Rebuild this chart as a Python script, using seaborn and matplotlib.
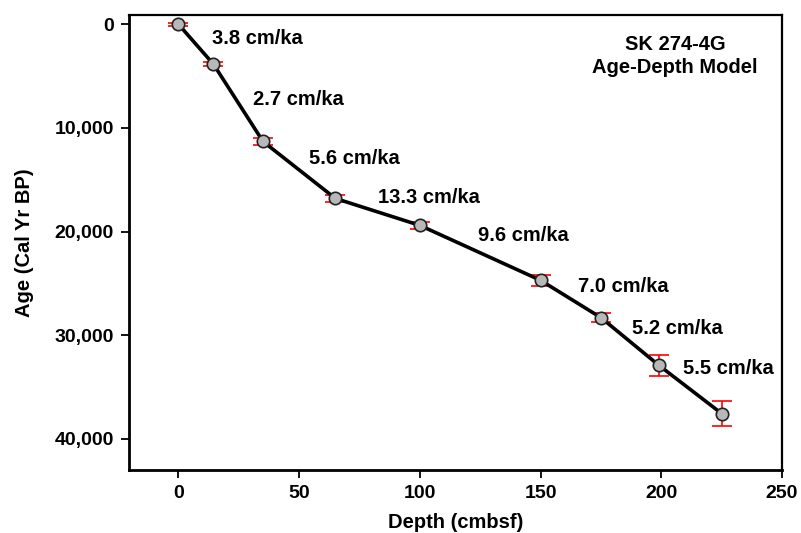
import matplotlib
matplotlib.use("Agg")
import matplotlib.pyplot as plt
import seaborn as sns
import pandas as pd

depth = [0, 14.5, 35, 65, 100, 150, 175, 199, 225]
age = [0, 3850, 11300, 16800, 19400, 24700, 28300, 32900, 37550]
age_err = [150, 200, 300, 300, 300, 500, 450, 1000, 1200]
rate_labels = ["3.8 cm/ka", "2.7 cm/ka", "5.6 cm/ka", "13.3 cm/ka",
               "9.6 cm/ka", "7.0 cm/ka", "5.2 cm/ka", "5.5 cm/ka"]
label_x = [14, 31, 54, 82.5, 124, 165.5, 188, 209]
label_y = [1350, 7250, 12950, 16700, 20400, 25300, 29300, 33250]
x_ticks = [0, 50, 100, 150, 200, 250]
y_ticks = [0, 10000, 20000, 30000, 40000]

sns.set_theme(style="white")
plt.rcParams['font.family'] = ['Liberation Sans', 'DejaVu Sans']
plt.rcParams['text.color'] = 'black'
plt.rcParams['axes.labelcolor'] = 'black'
plt.rcParams['xtick.color'] = 'black'
plt.rcParams['ytick.color'] = 'black'

df = pd.DataFrame({"Depth": depth, "Age": age})

fig = plt.figure(figsize=(8.01, 5.33), dpi=100)
ax = fig.add_axes([129/801, 1 - 470/533, (782-129)/801, (470-15)/533])

ax.errorbar(depth, age, yerr=age_err, fmt='none', ecolor='red',
            elinewidth=1.2, capsize=7.5, capthick=1.2, zorder=2)
sns.lineplot(data=df, x="Depth", y="Age", ax=ax, color='black', linewidth=2.6,
             sort=False, zorder=3)
sns.scatterplot(data=df, x="Depth", y="Age", ax=ax, color='#b8b8b8', s=80,
                edgecolor='#222222', linewidth=1.2, zorder=4)

for lx, ly, t in zip(label_x, label_y, rate_labels):
    ax.text(lx, ly, t, fontsize=14.5, fontweight='bold', ha='left', va='center')

ax.text(0.836, 0.91, "SK 274-4G\nAge-Depth Model", transform=ax.transAxes,
        fontsize=14.5, fontweight='bold', ha='center', va='center', linespacing=1.25)

ax.set_xlim(-20.5, 250)
ax.set_ylim(43000, -900)
ax.set_xticks(x_ticks)
ax.set_xticklabels([str(v) for v in x_ticks])
ax.set_yticks(y_ticks)
ax.set_yticklabels([f"{v:,}" for v in y_ticks])
ax.tick_params(axis='both', direction='out', length=6, width=1.3, color='black',
               labelsize=14, pad=5, bottom=True, left=True)
for lab in ax.get_xticklabels() + ax.get_yticklabels():
    lab.set_fontweight('bold')
ax.set_xlabel("Depth (cmbsf)", fontsize=14.5, fontweight='bold', labelpad=8)
ax.set_ylabel("Age (Cal Yr BP)", fontsize=14.5, fontweight='bold', labelpad=15)
for side in ['left', 'bottom']:
    ax.spines[side].set_linewidth(2.0)
    ax.spines[side].set_color('black')
for side in ['top', 'right']:
    ax.spines[side].set_linewidth(1.6)
    ax.spines[side].set_color('black')

fig.savefig("out.png", dpi=100)
